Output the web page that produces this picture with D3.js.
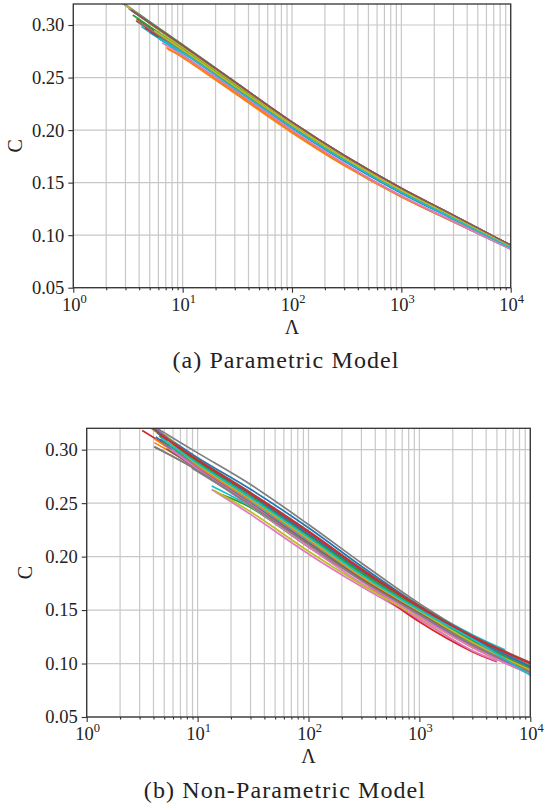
<!DOCTYPE html>
<html>
<head>
<meta charset="utf-8">
<script src="https://cdn.jsdelivr.net/npm/d3@7"></script>
<style>
  body { margin: 0; background: #fff; }
  svg { display: block; font-family: "Liberation Serif", "DejaVu Serif", serif; }
</style>
</head>
<body>
<script>
// axes
const xTickExps = [0, 1, 2, 3, 4];
const yTicks = [0.05, 0.10, 0.15, 0.20, 0.25, 0.30];
const yDomain = [0.05, 0.32];
const captions = ["(a) Parametric Model", "(b) Non-Parametric Model"];

// (a) parametric model, each curve as [Lambda, C] points
const paramSeries = [
  [[3.2,0.316],[10,0.2790],[30,0.2435],[100,0.2050],[300,0.1735],[1000,0.1425],[3000,0.1172],[10000,0.0893]],
  [[7.1,0.2786],[10,0.2690],[30,0.2350],[100,0.1975],[300,0.1662],[1000,0.1363],[3000,0.1125],[10000,0.0870]],
  [[2.9,0.3205],[10,0.2812],[30,0.2460],[100,0.2075],[300,0.1756],[1000,0.1443],[3000,0.1185],[10000,0.0902]],
  [[3.8,0.3060],[10,0.2760],[30,0.2420],[100,0.2040],[300,0.1725],[1000,0.1420],[3000,0.1177],[10000,0.0905]],
  [[2.8,0.3210],[10,0.2800],[30,0.2455],[100,0.2072],[300,0.1758],[1000,0.1446],[3000,0.1187],[10000,0.0900]],
  [[3.75,0.3040],[10,0.2745],[30,0.2405],[100,0.2030],[300,0.1715],[1000,0.1410],[3000,0.1162],[10000,0.0890]],
  [[3.1,0.3175],[10,0.2795],[30,0.2445],[100,0.2062],[300,0.1748],[1000,0.1438],[3000,0.1182],[10000,0.0898]],
  [[6.1,0.2869],[10,0.2735],[30,0.2405],[100,0.2050],[300,0.1755],[1000,0.1447],[3000,0.1189],[10000,0.0902]],
  [[3.0,0.3190],[10,0.2785],[30,0.2438],[100,0.2055],[300,0.1740],[1000,0.1430],[3000,0.1175],[10000,0.0895]],
  [[4.2,0.2986],[10,0.2715],[30,0.2370],[100,0.1990],[300,0.1675],[1000,0.1370],[3000,0.1127],[10000,0.0868]],
  [[5.0,0.2930],[10,0.2745],[30,0.2400],[100,0.2020],[300,0.1705],[1000,0.1400],[3000,0.1152],[10000,0.0882]],
  [[7.3,0.2770],[10,0.2700],[30,0.2360],[100,0.1985],[300,0.1670],[1000,0.1368],[3000,0.1129],[10000,0.0872]],
  [[3.5,0.3095],[10,0.2770],[30,0.2425],[100,0.2045],[300,0.1730],[1000,0.1422],[3000,0.1169],[10000,0.0892]],
  [[4.5,0.2975],[10,0.2755],[30,0.2410],[100,0.2035],[300,0.1720],[1000,0.1415],[3000,0.1167],[10000,0.0907]],
  [[3.3,0.3150],[10,0.2808],[30,0.2458],[100,0.2076],[300,0.1759],[1000,0.1447],[3000,0.1189],[10000,0.0903]],
  [[3.4,0.3140],[10,0.2805],[30,0.2457],[100,0.2077],[300,0.1760],[1000,0.1446],[3000,0.1188],[10000,0.0904]],
  [[6.5,0.2830],[10,0.2710],[30,0.2380],[100,0.2000],[300,0.1683],[1000,0.1375],[3000,0.1132],[10000,0.0866]],
  [[4.0,0.3030],[10,0.2750],[30,0.2408],[100,0.2032],[300,0.1718],[1000,0.1412],[3000,0.1159],[10000,0.0885]],
  [[5.5,0.2945],[10,0.2765],[30,0.2420],[100,0.2045],[300,0.1732],[1000,0.1425],[3000,0.1171],[10000,0.0888]],
  [[6.0,0.2880],[10,0.2740],[30,0.2395],[100,0.2025],[300,0.1712],[1000,0.1405],[3000,0.1157],[10000,0.0880]]
];

// (b) non-parametric model
const nonParamSeries = [
  [[3.8,0.322],[10,0.2925],[30,0.263],[100,0.227],[300,0.191],[1000,0.154],[3000,0.124],[10000,0.097]],
  [[3.6,0.322],[10,0.289],[30,0.258],[100,0.221],[300,0.186],[1000,0.151],[3000,0.122],[10000,0.096]],
  [[16.5,0.258],[30,0.246],[100,0.209],[300,0.178],[1000,0.145],[3000,0.117],[10000,0.093]],
  [[3.17,0.318],[10,0.286],[30,0.256],[100,0.220],[300,0.186],[1000,0.152],[3000,0.125],[10000,0.100]],
  [[4.6,0.310],[10,0.284],[30,0.252],[100,0.215],[300,0.181],[1000,0.148],[3000,0.120],[10000,0.094]],
  [[4.07,0.3025],[10,0.281],[30,0.250],[100,0.214],[300,0.182],[1000,0.150],[3000,0.123],[10000,0.101]],
  [[13.4,0.2628],[30,0.2395],[100,0.2025],[300,0.172],[1000,0.141],[3000,0.112],[5000,0.1025]],
  [[4.0,0.322],[10,0.297],[30,0.2675],[100,0.230],[300,0.194],[1000,0.156],[3000,0.126],[10000,0.098]],
  [[5.0,0.315],[10,0.287],[30,0.255],[100,0.217],[300,0.183],[1000,0.149],[3000,0.121],[10000,0.095]],
  [[13.4,0.266],[30,0.247],[100,0.212],[300,0.183],[1000,0.153],[3000,0.127],[5900,0.1128]],
  [[4.2,0.312],[10,0.285],[30,0.253],[100,0.216],[300,0.180],[1000,0.146],[3000,0.118],[10000,0.091]],
  [[4.07,0.3066],[10,0.283],[30,0.251],[100,0.214],[300,0.179],[1000,0.145],[3000,0.116],[10000,0.090]],
  [[4.8,0.308],[10,0.286],[30,0.254],[100,0.218],[300,0.184],[1000,0.151],[3000,0.123],[10000,0.097]],
  [[5.0,0.310],[10,0.287],[30,0.255],[100,0.2165],[300,0.178],[1000,0.139],[3000,0.111],[4977,0.1018]],
  [[4.4,0.318],[10,0.290],[30,0.259],[100,0.222],[300,0.187],[1000,0.152],[3000,0.123],[10000,0.096]],
  [[3.9,0.320],[10,0.291],[30,0.260],[100,0.224],[300,0.189],[1000,0.154],[3000,0.126],[10000,0.101]],
  [[6.0,0.298],[10,0.281],[30,0.2475],[100,0.209],[300,0.175],[1000,0.142],[3000,0.112],[5000,0.1025]],
  [[8.85,0.283],[10,0.2795],[30,0.249],[100,0.212],[300,0.180],[1000,0.148],[3000,0.120],[10000,0.093]],
  [[14,0.262],[30,0.242],[100,0.205],[300,0.174],[1000,0.143],[3000,0.115],[10000,0.090]],
  [[5.5,0.303],[10,0.284],[30,0.252],[100,0.215],[300,0.181],[1000,0.149],[3000,0.121],[10000,0.091]],
  [[4.3,0.316],[10,0.289],[30,0.258],[100,0.221],[300,0.187],[1000,0.153],[3000,0.124],[10000,0.097]],
  [[4.1,0.310],[10,0.284],[30,0.253],[100,0.216],[300,0.181],[1000,0.147],[3000,0.119],[10000,0.093]],
  [[4.5,0.313],[10,0.288],[30,0.256],[100,0.219],[300,0.185],[1000,0.151],[3000,0.122],[10000,0.095]],
  [[4.6,0.314],[10,0.290],[30,0.259],[100,0.223],[300,0.188],[1000,0.153],[3000,0.125],[10000,0.100]],
  [[4.9,0.306],[10,0.283],[30,0.250],[100,0.213],[300,0.178],[1000,0.145],[3000,0.117],[10000,0.091]],
  [[5.2,0.301],[10,0.282],[30,0.2495],[100,0.2125],[300,0.179],[1000,0.147],[3000,0.120],[10000,0.094]],
  [[5.8,0.300],[10,0.282],[30,0.249],[100,0.211],[300,0.177],[1000,0.144],[3000,0.115],[10000,0.090]],
  [[4.07,0.303],[10,0.2805],[30,0.248],[100,0.2115],[300,0.178],[1000,0.146],[3000,0.118],[10000,0.092]],
  [[5.3,0.308],[10,0.286],[30,0.254],[100,0.217],[300,0.182],[1000,0.149],[3000,0.120],[10000,0.094]],
  [[4.7,0.311],[10,0.287],[30,0.255],[100,0.218],[300,0.183],[1000,0.150],[3000,0.123],[10000,0.089]]
];

var W = 544, H = 807;
var svg = d3.select("body").append("svg").attr("width", W).attr("height", H);

// one panel
function panel(series, box, caption, id){
  var x = d3.scaleLog().domain([1, 1e4]).range([box.l, box.r]);
  var y = d3.scaleLinear().domain(yDomain).range([box.b, box.t]);
  var g = svg.append("g");

  var majors = xTickExps.map(function(e){ return Math.pow(10, e); });
  var minors = [];
  xTickExps.slice(0, -1).forEach(function(e){
    for (var k = 2; k <= 9; k++) minors.push(k * Math.pow(10, e));
  });

  // grid
  g.selectAll(".vg").data(majors.concat(minors)).enter().append("line")
    .attr("x1", function(d){ return x(d); }).attr("x2", function(d){ return x(d); })
    .attr("y1", box.t).attr("y2", box.b)
    .attr("stroke", "#c8c8c8").attr("stroke-width", 1.2);
  g.selectAll(".hg").data(yTicks).enter().append("line")
    .attr("x1", box.l).attr("x2", box.r)
    .attr("y1", function(d){ return y(d); }).attr("y2", function(d){ return y(d); })
    .attr("stroke", "#c8c8c8").attr("stroke-width", 1.2);

  // curves
  svg.append("clipPath").attr("id", "clip" + id).append("rect")
    .attr("x", box.l).attr("y", box.t).attr("width", box.r - box.l).attr("height", box.b - box.t);
  var line = d3.line()
    .x(function(d){ return x(d[0]); })
    .y(function(d){ return y(d[1]); })
    .curve(d3.curveCatmullRom.alpha(0.5));
  var colors = d3.schemeCategory10;
  g.append("g").attr("clip-path", "url(#clip" + id + ")")
    .selectAll("path").data(series).enter().append("path")
    .attr("d", line)
    .attr("fill", "none")
    .attr("stroke", function(d, i){ return colors[i % 10]; })
    .attr("stroke-width", 1.7);

  // axes
  var ax = g.append("g").attr("transform", "translate(0," + box.b + ")")
    .call(d3.axisBottom(x).tickValues(majors).tickFormat("").tickSizeOuter(0).tickSize(5));
  var axm = g.append("g").attr("transform", "translate(0," + box.b + ")")
    .call(d3.axisBottom(x).tickValues(minors).tickFormat("").tickSizeOuter(0).tickSize(2.5));
  var ay = g.append("g").attr("transform", "translate(" + box.l + ",0)")
    .call(d3.axisLeft(y).tickValues(yTicks).tickFormat(d3.format(".2f")).tickSize(5).tickPadding(4).tickSizeOuter(0));
  [ax, axm, ay].forEach(function(a){
    a.select(".domain").remove();
    a.selectAll("line").attr("stroke", "#333").attr("stroke-width", 1.1);
  });
  ay.selectAll("text").attr("font-size", 18.5).attr("fill", "#222")
    .attr("font-family", "Liberation Serif, serif");

  // x tick labels 10^n
  var xl = g.selectAll(".xl").data(xTickExps).enter().append("text")
    .attr("x", function(d){ return x(Math.pow(10, d)) + 1; })
    .attr("y", box.b + 23)
    .attr("text-anchor", "middle")
    .attr("font-size", 18.5).attr("fill", "#222");
  xl.append("tspan").text("10");
  xl.append("tspan").attr("dy", -8).attr("font-size", 12.5).text(function(d){ return d; });

  // frame
  g.append("rect")
    .attr("x", box.l).attr("y", box.t).attr("width", box.r - box.l).attr("height", box.b - box.t)
    .attr("fill", "none").attr("stroke", "#333").attr("stroke-width", 1.3);

  // labels
  g.append("text").attr("x", (box.l + box.r) / 2).attr("y", box.b + 46)
    .attr("text-anchor", "middle").attr("font-size", 20).attr("fill", "#222").text("Λ");
  g.append("text")
    .attr("transform", "translate(" + box.cx + "," + ((box.t + box.b) / 2) + ") rotate(-90)")
    .attr("text-anchor", "middle").attr("dy", "0.35em")
    .attr("font-size", 20).attr("fill", "#222").text("C");
  g.append("text").attr("x", box.capX).attr("y", box.capY)
    .attr("text-anchor", "middle").attr("font-size", 24).attr("letter-spacing", 1.1)
    .attr("fill", "#222").text(caption);
}

panel(paramSeries, {l: 73.3, t: 4, r: 510.7, b: 287.7, cx: 15, capX: 286, capY: 368}, captions[0], 0);
panel(nonParamSeries, {l: 86.7, t: 428.3, r: 530.3, b: 717, cx: 25, capX: 285, capY: 798}, captions[1], 1);
</script>
</body>
</html>
